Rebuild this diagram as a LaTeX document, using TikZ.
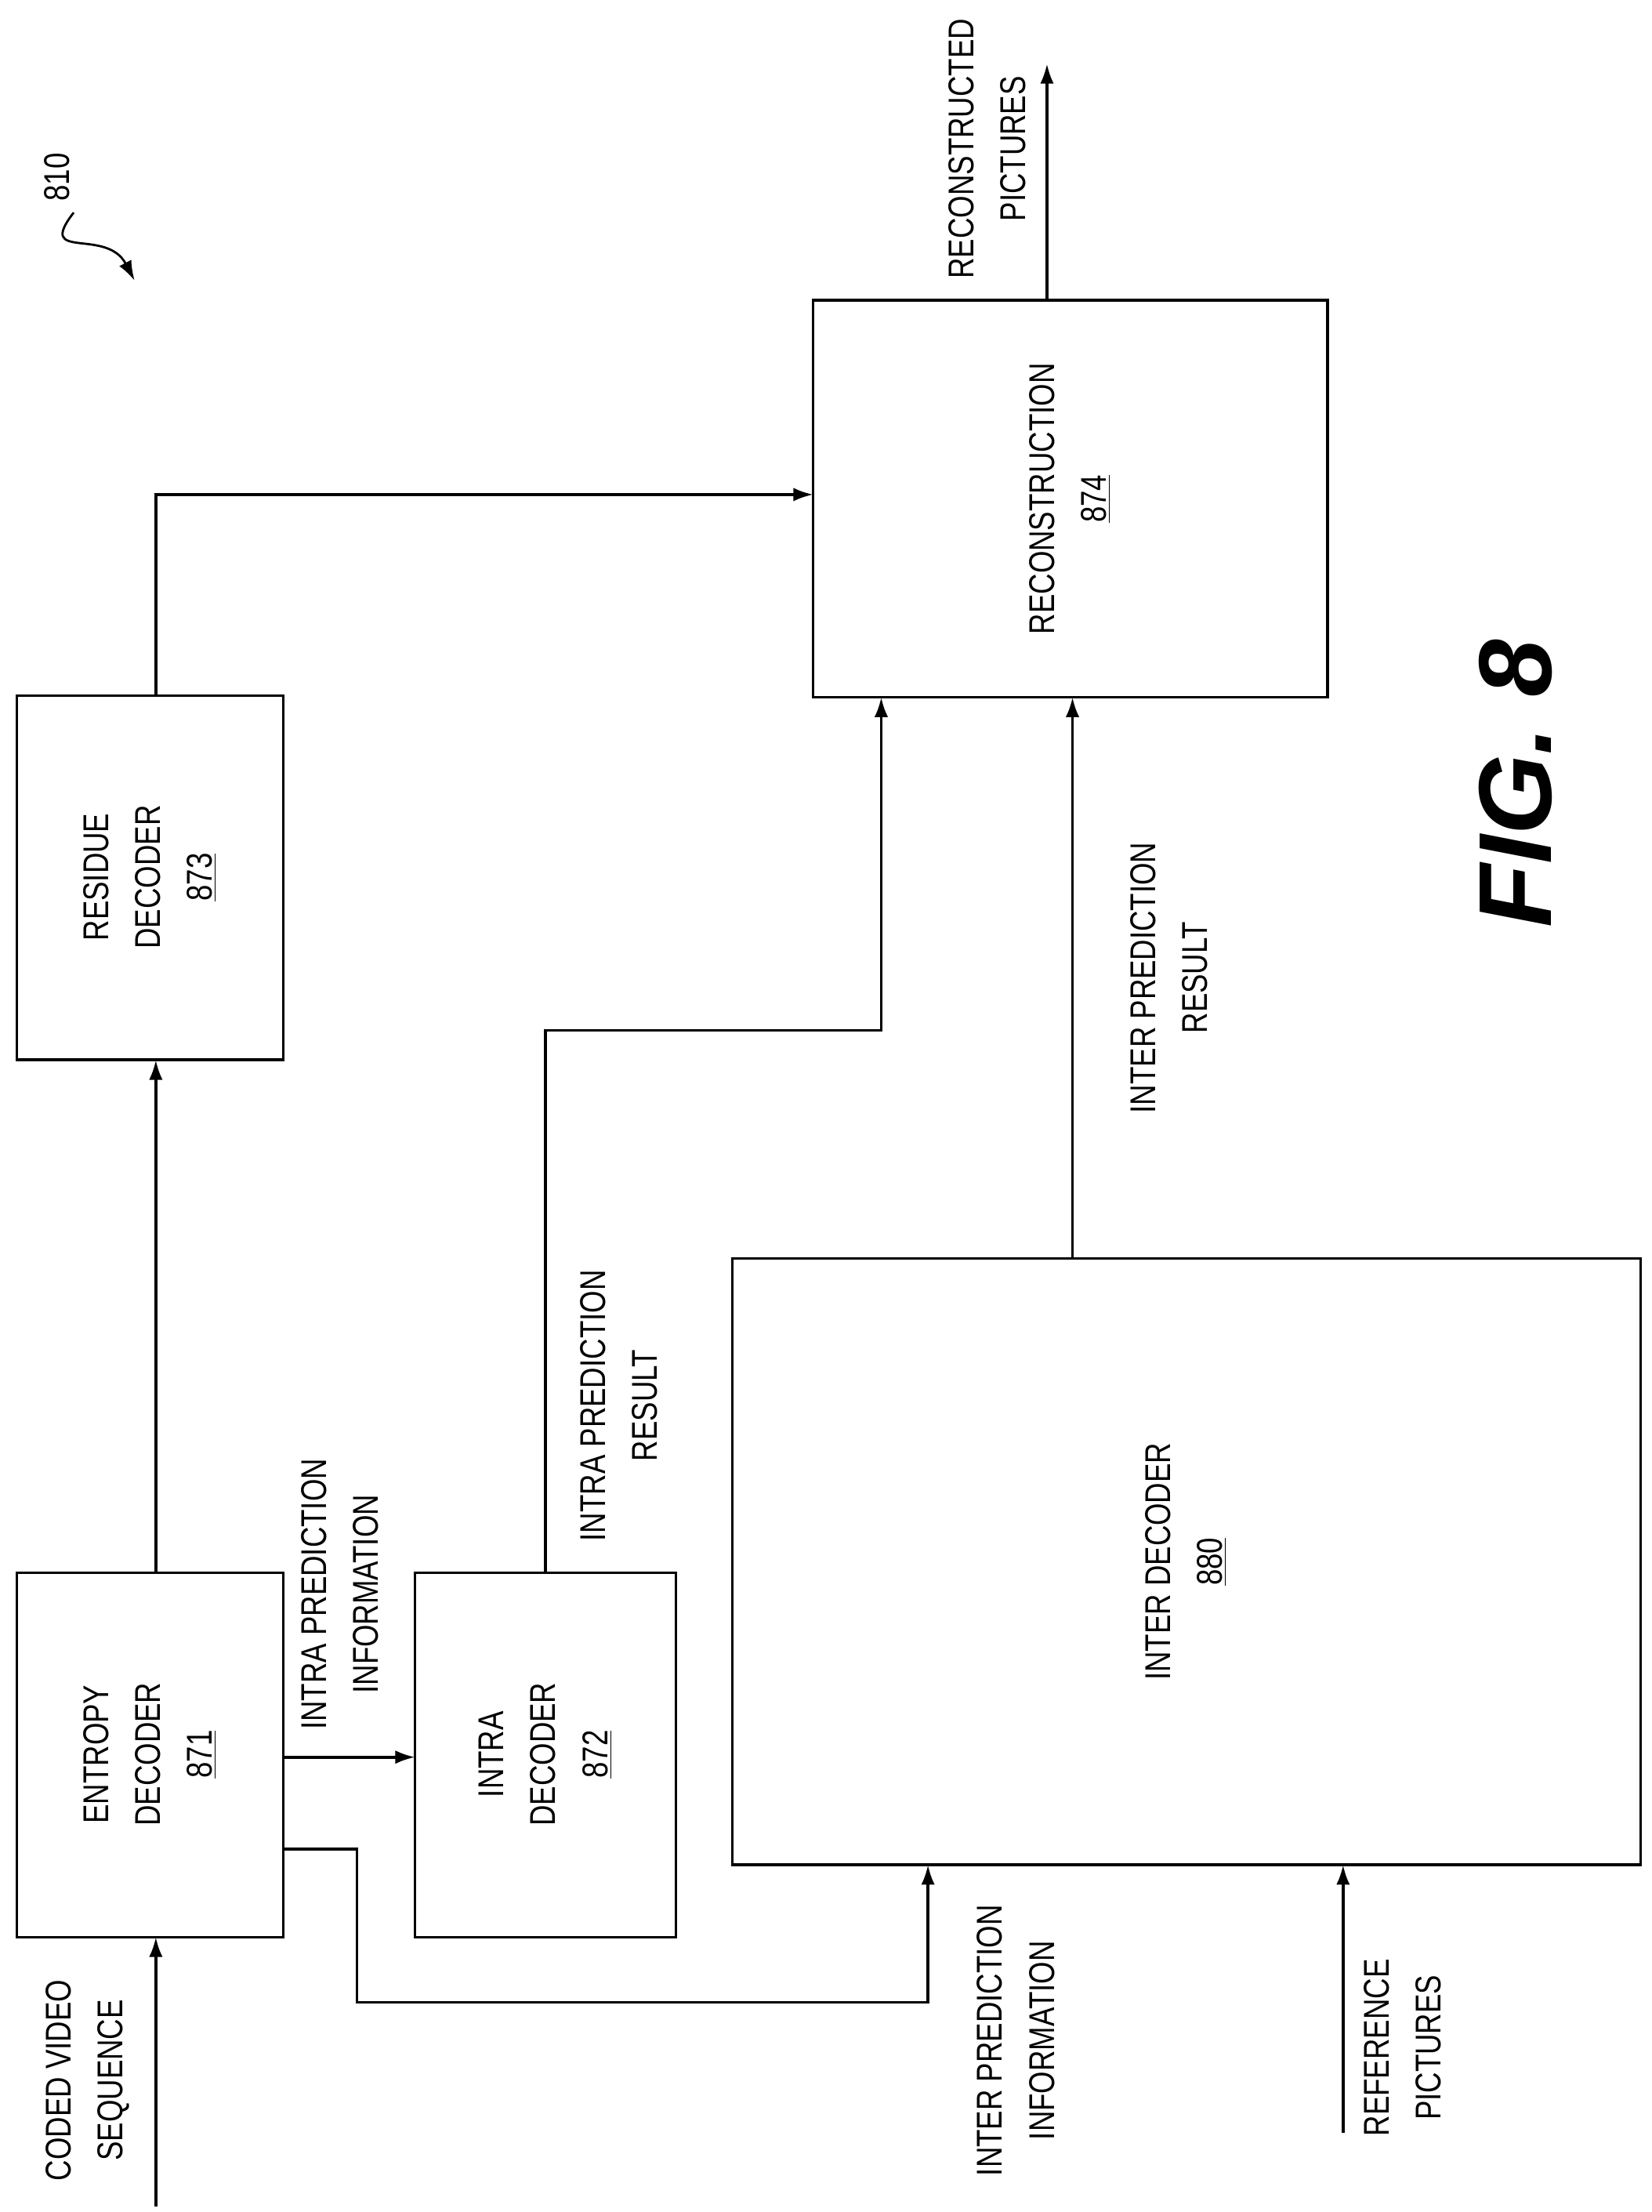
\documentclass[tikz,border=0pt]{standalone}
\usepackage{fontspec}
\setmainfont{Liberation Sans}[FakeStretch=0.8]
\newfontfamily\figfont{Liberation Sans}
\usetikzlibrary{arrows.meta}
\begin{document}
\begin{tikzpicture}[x=0.025cm,y=-0.025cm,
  box/.style={draw,line width=1.4pt,rectangle,anchor=north west},
  lbl/.style={rotate=90,align=center,font=\fontsize{18}{26}\selectfont},
  ar/.style={line width=1.4pt,-{Latex[length=0.35cm,width=0.24cm]}},
  ln/.style={line width=1.4pt}]
\useasboundingbox (0,0) rectangle (1166,1561);
% boxes
\draw[box] (12,1110) rectangle (200,1367);
\draw[box] (293,1110) rectangle (477,1367);
\draw[box] (517,888) rectangle (1158,1316);
\draw[box] (12,491) rectangle (200,748);
\draw[box] (574,212) rectangle (937,492);
\node[lbl] (ent) at (106,1238) {ENTROPY\\DECODER\\\underline{871}};
\node[lbl] (intra) at (385,1238) {INTRA\\DECODER\\\underline{872}};
\node[lbl] (inter) at (837,1102) {INTER DECODER\\\underline{880}};
\node[lbl] (res) at (106,619) {RESIDUE\\DECODER\\\underline{873}};
\node[lbl] (rec) at (755,352) {RECONSTRUCTION\\\underline{874}};
% connectors
\coordinate (cvs) at (110,1557);
\draw[ar] (cvs) -- (110,1367);
\draw[ar] (110,1110) -- (110,748);
\draw[ar] (110,491) -- (110,349) -- (574,349);
\draw[ar] (200,1240) -- (293,1240);
\draw[ar] (200,1305) -- (252,1305) -- (252,1413) -- (655,1413) -- (655,1316);
\draw[ar] (385,1110) -- (385,727) -- (622,727) -- (622,492);
\draw[ar] (757,888) -- (757,492);
\coordinate (refp) at (948,1505);
\draw[ar] (refp) -- (948,1316);
\coordinate (out) at (739,45);
\draw[ar] (739,212) -- (out);
% labels
\node[lbl] (l1) at (240,1125) {INTRA PREDICTION\\INFORMATION};
\node[lbl] (l2) at (437,992) {INTRA PREDICTION\\RESULT};
\node[lbl] (l3) at (717,1440) {INTER PREDICTION\\INFORMATION};
\node[lbl] (l4) at (825,690) {INTER PREDICTION\\RESULT};
\node[lbl] (l5) at (990,1445) {REFERENCE\\PICTURES};
\node[lbl] (l6) at (697,105) {RECONSTRUCTED\\PICTURES};
\node[lbl] (l7) at (62,1468) {CODED VIDEO\\SEQUENCE};
\node[lbl] (n810) at (40,125) {810};
\draw[ar,line width=1.1pt] (52,150) .. controls (25,185) and (75,160) .. (95,198);
\node[rotate=90,font=\figfont\bfseries\itshape\fontsize{52}{60}\selectfont] (fig) at (1070,553) {FIG. 8};
\end{tikzpicture}
\end{document}
